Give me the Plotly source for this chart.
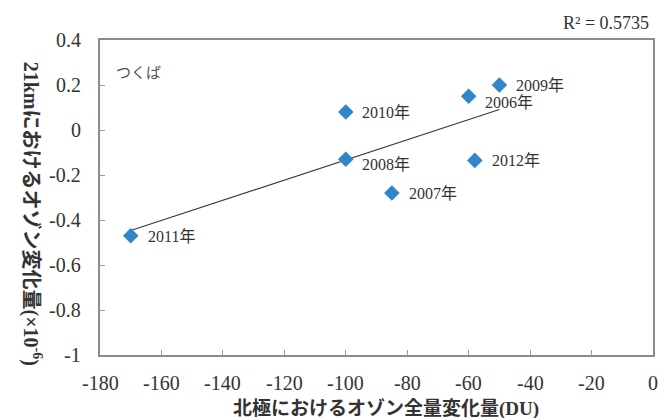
import numpy as np
import plotly.graph_objects as go

# Arctic total ozone change (DU) vs ozone change at 21 km over Tsukuba
years = ["2011年", "2010年", "2008年", "2007年", "2006年", "2009年", "2012年"]
arctic_du = [-170, -100, -100, -85, -60, -50, -58]
ozone_21km = [-0.47, 0.08, -0.13, -0.28, 0.15, 0.20, -0.135]
r2_label = "R² = 0.5735"

x_ticks = [-180, -160, -140, -120, -100, -80, -60, -40, -20, 0]
y_ticks = [-1, -0.8, -0.6, -0.4, -0.2, 0, 0.2, 0.4]

# label placement next to each marker (pixels)
label_dx = [15, 14, 14, 15, 14, 15, 15]
label_dy = [-1, 0, -5, 0, -6, 0, 0]

FONT = "Liberation Serif"
JP_FONT = "Liberation Serif, Noto Sans CJK JP"
INK = "#333333"

slope, intercept = np.polyfit(arctic_du, ozone_21km, 1)
fit_x = np.array([min(arctic_du), max(arctic_du)])
fit_y = slope * fit_x + intercept

fig = go.Figure()
fig.add_trace(go.Scatter(
    x=fit_x, y=fit_y, mode="lines",
    line=dict(color="#3a3a3a", width=1.2),
    hoverinfo="skip", showlegend=False,
))
fig.add_trace(go.Scatter(
    x=arctic_du, y=ozone_21km, mode="markers",
    marker=dict(symbol="diamond", size=12, color="#2f86c9"),
    showlegend=False,
))

for yr, xv, yv, dx, dy in zip(years, arctic_du, ozone_21km, label_dx, label_dy):
    fig.add_annotation(
        x=xv, y=yv, text=yr, showarrow=False,
        xanchor="left", yanchor="middle", xshift=dx, yshift=dy,
        font=dict(family=JP_FONT, size=16, color=INK),
    )

# tick labels, placed on the axis scales
for xv in x_ticks:
    fig.add_annotation(
        x=xv, y=0, xref="x", yref="paper", text=str(xv), showarrow=False,
        xanchor="center", yanchor="middle", yshift=-28,
        font=dict(family=FONT, size=20, color=INK),
    )
for yv in y_ticks:
    fig.add_annotation(
        x=0, y=yv, xref="paper", yref="y", text=f"{yv:g}", showarrow=False,
        xanchor="right", yanchor="middle", xshift=-17,
        font=dict(family=FONT, size=20, color=INK),
    )

fig.add_annotation(
    x=0.026, y=0.90, xref="paper", yref="paper", text="つくば",
    showarrow=False, xanchor="left", yanchor="middle",
    font=dict(family="Noto Sans CJK JP", size=15, color="#555555"),
)
fig.add_annotation(
    x=1.0, y=1.0, xref="paper", yref="paper", text=r2_label,
    showarrow=False, xanchor="right", yanchor="bottom", yshift=5, xshift=-2,
    font=dict(family=FONT, size=18, color=INK),
)
# vertical axis title, reading top to bottom
fig.add_annotation(
    x=-0.122, y=0.45, xref="paper", yref="paper",
    text="<b>21kmにおけるオゾン変化量(×10<sup>-6</sup>)</b>",
    textangle=90, showarrow=False, xanchor="center", yanchor="middle",
    font=dict(family=JP_FONT, size=20, color=INK),
)
# horizontal axis title
fig.add_annotation(
    x=0.517, y=0, xref="paper", yref="paper", yshift=-54,
    text="<b>北極におけるオゾン全量変化量(DU)</b>",
    showarrow=False, xanchor="center", yanchor="middle",
    font=dict(family=JP_FONT, size=19, color=INK),
)

axis_common = dict(
    showline=True, linecolor="#8c8c8c", linewidth=1.5, mirror=True,
    ticks="inside", ticklen=5, tickcolor="#9a9a9a", tickwidth=1,
    showgrid=False, zeroline=False, showticklabels=False,
)

fig.update_xaxes(range=[-180, 0], tickmode="array", tickvals=x_ticks, **axis_common)
fig.update_yaxes(range=[-1, 0.4], tickmode="array", tickvals=y_ticks, **axis_common)

fig.update_layout(
    width=663, height=418,
    margin=dict(l=100, r=8, t=40, b=63),
    paper_bgcolor="white", plot_bgcolor="white",
    font=dict(family=FONT, color=INK),
)

fig.write_html("out.html")
